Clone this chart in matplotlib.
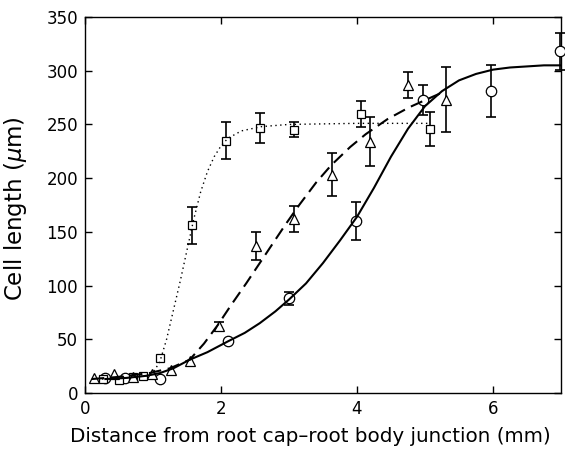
import numpy as np
import matplotlib
matplotlib.use("Agg")
import matplotlib.pyplot as plt

# ---- data ----
circ_x = [0.29, 0.59, 1.10, 2.10, 3.00, 3.99, 4.97, 5.97, 6.98]
circ_y = [14, 14, 13, 48, 88, 160, 273, 281, 318]
circ_e = [0, 0, 0, 0, 6, 18, 14, 24, 17]

sq_x = [0.27, 0.50, 0.70, 0.85, 1.10, 1.58, 2.08, 2.58, 3.08, 4.06, 5.07]
sq_y = [13, 12, 15, 16, 33, 156, 235, 247, 245, 260, 246]
sq_e = [0, 0, 0, 0, 0, 17, 17, 14, 7, 12, 16]

tri_x = [0.13, 0.42, 0.70, 0.98, 1.27, 1.55, 1.97, 2.52, 3.08, 3.63, 4.19, 4.75, 5.31]
tri_y = [14, 18, 15, 18, 21, 30, 62, 137, 162, 203, 234, 287, 273]
tri_e = [0, 0, 0, 0, 0, 0, 4, 13, 12, 20, 23, 12, 30]

# fitted curves
solid_x = [0.3, 0.6, 0.9, 1.1, 1.3, 1.54, 1.8, 2.1, 2.35, 2.57, 2.8, 3.0, 3.25, 3.5, 3.75,
           4.0, 4.25, 4.5, 4.75, 5.0, 5.25, 5.5, 5.75, 6.0, 6.25, 6.5, 6.75, 7.0]
solid_y = [13, 14, 16, 18.5, 23, 31, 38, 48, 56, 65, 76, 87, 102, 121, 142,
           164, 191, 220, 246, 267, 281, 291, 297, 301, 303, 304, 305, 305]

dash_x = [0.1, 0.5, 0.95, 1.25, 1.54, 1.75, 1.95, 2.15, 2.37, 2.56, 2.76, 2.95, 3.15, 3.4,
          3.62, 3.9, 4.13, 4.45, 4.77, 5.05, 5.3]
dash_y = [13, 15, 18.6, 23, 31, 46, 63, 82, 102, 120, 139, 157, 175, 196,
          212, 229, 241, 255, 266, 274, 281]

dot_x = [0.25, 0.6, 0.9, 1.0, 1.1, 1.2, 1.3, 1.4, 1.5, 1.6, 1.7, 1.8, 1.9, 2.0, 2.1,
         2.3, 2.6, 3.0, 4.0, 5.05]
dot_y = [13, 14, 16, 19, 29, 50, 77, 104, 133, 162, 187, 206, 220, 230, 237,
         244, 248, 250, 251, 251]

x_ticks = [0, 2, 4, 6]
y_ticks = [0, 50, 100, 150, 200, 250, 300, 350]

plt.rcParams['font.family'] = ['DejaVu Sans']

fig = plt.figure(figsize=(5.65, 4.51), dpi=100)
ax = fig.add_axes([85/565, 1-393/451, 476/565, 376/451])

# curves
ax.plot(solid_x, solid_y, '-', color='black', lw=1.5, zorder=4)
ax.plot(dash_x, dash_y, color='black', lw=1.5, linestyle=(0, (6, 3.2)), zorder=4)
ax.plot(dot_x, dot_y, color='black', lw=1.0, linestyle=(0, (1, 2.5)), zorder=4)

def series(xs, ys, es, marker, ms):
    xs = np.asarray(xs); ys = np.asarray(ys); es = np.asarray(es, dtype=float)
    m = es > 0
    _, caps, bars = ax.errorbar(xs[m], ys[m], yerr=es[m], fmt='none', ecolor='black',
                                elinewidth=1.2, capsize=3.3, capthick=1.2, zorder=2)
    for a in list(caps) + list(bars):
        a.set_clip_on(False)
    ax.plot(xs, ys, linestyle='none', marker=marker, ms=ms, mfc='white',
            mec='black', mew=0.9, zorder=3, clip_on=False)

series(circ_x, circ_y, circ_e, 'o', 7.5)
series(sq_x, sq_y, sq_e, 's', 6.0)
series(tri_x, tri_y, tri_e, '^', 7.0)

ax.set_xlim(0, 7)
ax.set_ylim(0, 350)
ax.set_xticks(x_ticks)
ax.set_yticks(y_ticks)
ax.tick_params(direction='in', length=5, width=1, top=True, right=True,
               labelsize=12, pad=5)
for s in ax.spines.values():
    s.set_linewidth(1.0)

ax.set_xlabel('Distance from root cap\u2013root body junction (mm)', fontsize=14.3)
ax.set_ylabel('Cell length ($\\mu$m)', fontsize=16.5)
ax.xaxis.set_label_coords((310-85)/476, -0.09)
ax.yaxis.set_label_coords(-0.118, 0.49)

fig.savefig('out.png', dpi=100)
